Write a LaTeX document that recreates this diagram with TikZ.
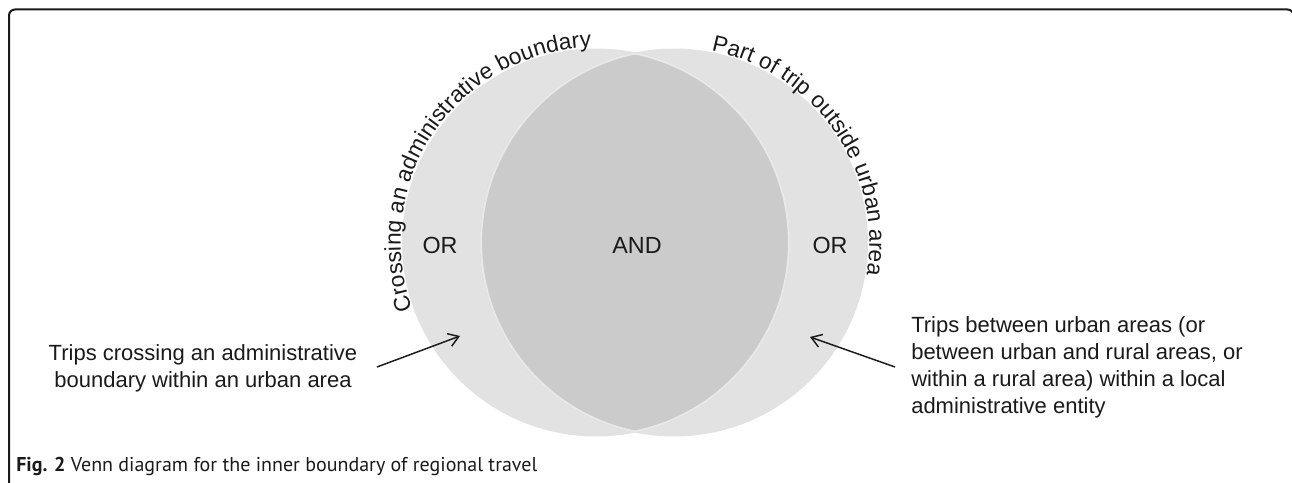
\documentclass[tikz,border=0pt]{standalone}
\usepackage{fontspec}
\setmainfont{Liberation Sans}
\newfontfamily\capfont{PT Sans}
\usetikzlibrary{arrows.meta,decorations.text,calc}
\definecolor{circfill}{HTML}{E2E2E2}
\definecolor{lensfill}{HTML}{CBCBCB}
\definecolor{rimcol}{HTML}{E8E8E8}
\definecolor{txt}{HTML}{1A1A1A}
\newcommand\mainfont{\fontsize{16.5}{20.25}\selectfont}
\newcommand\regfont{\fontsize{17.5}{21}\selectfont}
\newcommand\arcfont{\fontsize{17}{20}\selectfont}
\begin{document}
\begin{tikzpicture}[x=0.75pt,y=0.75pt,
  lbl/.style={inner sep=0pt, text=txt, font=\mainfont},
  reg/.style={inner sep=0pt, text=txt, font=\regfont},
  arr/.style={draw=txt, line width=1.1pt, -{Straight Barb[length=7.5pt,width=10pt]}},
  frame/.style={draw=txt, line width=1.5pt, rounded corners=4.5pt}]
\useasboundingbox (0,0) rectangle (1292,482);
\clip (0,0) rectangle (1292,482);
% frame
\draw[frame] (9,-5) -- (9,472.5) -- (1293.5,472.5) -- (1293.5,-5);
% circles
\coordinate (c1) at (596,239.5);
\coordinate (c2) at (674,239.5);
\fill[circfill] (c1) circle[radius=194];
\fill[circfill] (c2) circle[radius=194];
\begin{scope}
  \clip (c1) circle[radius=194];
  \fill[lensfill] (c2) circle[radius=194];
  \draw[rimcol, line width=1.6pt] (c2) circle[radius=193];
\end{scope}
\begin{scope}
  \clip (c2) circle[radius=194];
  \draw[rimcol, line width=1.6pt] (c1) circle[radius=193];
\end{scope}
% curved labels
\path[decorate, decoration={text along path, text align=left, raise=1pt,
  text={|\arcfont\color{txt}|Crossing an administrative boundary}}]
  ($(c1)+(200:194)$) arc[start angle=200, end angle=60, radius=194];
\path[decorate, decoration={text along path, text align=left, raise=1pt,
  text={|\arcfont\color{txt}|Part of trip outside urban area}}]
  ($(c2)+(79:194)$) arc[start angle=79, end angle=-40, radius=194];
% region labels
\node[reg] (orl) at (440,237) {OR};
\node[reg] (and) at (637,237) {AND};
\node[reg] (orr) at (830,237) {OR};
% descriptions
\node[lbl, align=center] (lt) at (203,113.5) {Trips crossing an administrative\\boundary within an urban area};
\node[lbl, align=left, anchor=west] (rt) at (911,114.5) {Trips between urban areas (or\\between urban and rural areas, or\\within a rural area) within a local\\administrative entity};
% arrows
\coordinate (la) at (377,115);
\coordinate (lb) at (460,146);
\coordinate (ra) at (895,115);
\coordinate (rb) at (810,145);
\draw[arr] (la) -- (lb);
\draw[arr] (ra) -- (rb);
% caption
\node[anchor=base west, inner sep=0pt, text=txt, font=\capfont\fontsize{15}{18}\selectfont] (cap) at (16,10.5) {\textbf{Fig. 2} Venn diagram for the inner boundary of regional travel};
\end{tikzpicture}
\end{document}
